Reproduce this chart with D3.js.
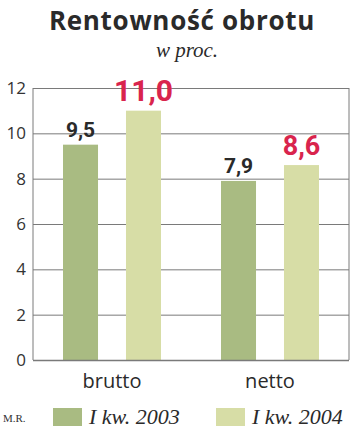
<!DOCTYPE html>
<html><head><meta charset="utf-8">
<script src="https://cdn.jsdelivr.net/npm/d3@7"></script>
<style>body{margin:0;background:#fff}svg{display:block}</style>
</head><body>
<svg id="c" width="350" height="431"></svg>
<script>
const categories = ["brutto", "netto"];
const seriesNames = ["I kw. 2003", "I kw. 2004"];
const values2003 = [9.5, 7.9];
const values2004 = [11.0, 8.6];
const valueLabels2003 = ["9,5", "7,9"];
const valueLabels2004 = ["11,0", "8,6"];
const yTicks = [0, 2, 4, 6, 8, 10, 12];
const colors = ["#a9bb82", "#d7dda6"];

const svg = d3.select("#c");
const L = 33, R = 349, T = 88, B = 360;
const x0 = d3.scaleBand().domain(categories).range([L, R]).padding(0);
const x1 = d3.scaleBand().domain([0, 1]).range([30, 128]).paddingInner(0.444).paddingOuter(0);
const y = d3.scaleLinear().domain([0, 12]).range([B, T]);

svg.append("text").attr("x", 182).attr("y", 30).attr("text-anchor", "middle")
  .attr("font-family", "'Open Sans', sans-serif").attr("font-weight", "bold").attr("font-size", 26)
  .attr("letter-spacing", 0.7).attr("fill", "#2a2a2a").text("Rentowność obrotu");
svg.append("text").attr("x", 187).attr("y", 57).attr("text-anchor", "middle")
  .attr("font-family", "'Liberation Serif', serif").attr("font-style", "italic").attr("font-size", 21)
  .attr("fill", "#2a2a2a").text("w proc.");

// grid
const yAxis = d3.axisLeft(y).tickValues(yTicks).tickSize(-(R - L)).tickPadding(7).tickFormat(d3.format("d"));
const ga = svg.append("g").attr("transform", `translate(${L},0)`).call(yAxis);
ga.select(".domain").remove();
ga.selectAll(".tick line").attr("stroke", "#7a7a7a").attr("stroke-width", 1);
ga.selectAll(".tick text").attr("font-family", "'Open Sans', sans-serif").attr("font-size", 17).attr("fill", "#333");
svg.append("line").attr("x1", L).attr("x2", L).attr("y1", T).attr("y2", B).attr("stroke", "#7a7a7a");
svg.append("line").attr("x1", R).attr("x2", R).attr("y1", T).attr("y2", B).attr("stroke", "#7a7a7a");

const series = [values2003, values2004];
const labels = [valueLabels2003, valueLabels2004];
categories.forEach((c, i) => {
  series.forEach((vals, s) => {
    const bx = x0(c) + x1(s);
    svg.append("rect").attr("x", bx).attr("y", y(vals[i])).attr("width", x1.bandwidth())
      .attr("height", B - y(vals[i])).attr("fill", colors[s]);
    svg.append("text").attr("x", bx + x1.bandwidth() / 2).attr("y", y(vals[i]) - (s ? 10 : 8))
      .attr("text-anchor", "middle").attr("font-family", "Roboto, sans-serif").attr("font-weight", "bold")
      .attr("font-size", s ? (i === 0 ? 30 : 27) : 21).attr("fill", s ? "#d9244d" : "#2a2a2a")
      .text(labels[s][i]);
  });
});
svg.append("line").attr("x1", L).attr("x2", R).attr("y1", B + 0.5).attr("y2", B + 0.5).attr("stroke", "#7a7a7a").attr("stroke-width", 1.5);

const xAxis = d3.axisBottom(x0).tickSize(0).tickPadding(14);
const gx = svg.append("g").attr("transform", `translate(0,${B})`).call(xAxis);
gx.select(".domain").remove();
gx.selectAll("text").attr("font-family", "'Open Sans', sans-serif").attr("font-size", 20).attr("fill", "#2a2a2a");

// legend
svg.append("text").attr("x", 3).attr("y", 422).attr("font-family", "'Liberation Serif', serif")
  .attr("font-size", 11).attr("fill", "#333").text("M.R.");
const legX = [53, 216];
seriesNames.forEach((n, s) => {
  svg.append("rect").attr("x", legX[s]).attr("y", 408).attr("width", 29).attr("height", 18).attr("fill", colors[s]);
  svg.append("text").attr("x", legX[s] + 36).attr("y", 424).attr("font-family", "'Liberation Serif', serif")
    .attr("font-style", "italic").attr("font-size", 22).attr("fill", "#2a2a2a").text(n);
});
</script>
</body></html>
